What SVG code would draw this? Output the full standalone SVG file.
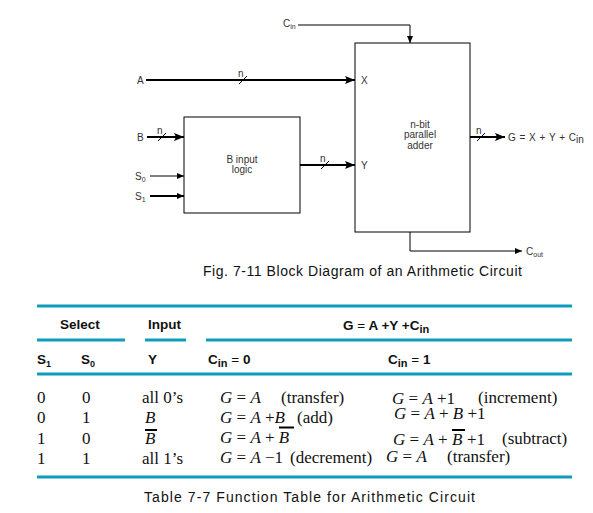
<svg xmlns="http://www.w3.org/2000/svg" width="593" height="513" viewBox="0 0 593 513" xml:space="preserve">
<defs>
<style>
.lbl{font-family:"Liberation Sans",Arial,sans-serif;font-size:10px;fill:#333}
.cap{font-family:"Liberation Sans",Arial,sans-serif;font-size:14px;fill:#111}
.hd{font-family:"Liberation Sans",Arial,sans-serif;font-size:13.5px;font-weight:bold;fill:#111}
.tb{font-family:"Liberation Serif","Times New Roman",serif;font-size:17px;fill:#111}
.it{font-style:italic}
.bus{stroke:#000;stroke-width:2.2;fill:none}
.thin{stroke:#000;stroke-width:1;fill:none}
.box{stroke:#000;stroke-width:1;fill:#fff}
.teal{stroke:#0f9bbd;stroke-width:3}
.bar{stroke:#000;stroke-width:2}
</style>
<marker id="ab" markerWidth="10" markerHeight="8" refX="10" refY="4" orient="auto" markerUnits="userSpaceOnUse">
<path d="M0,0 L10,4 L0,8 L2,4 Z" fill="#000"/>
</marker>
<marker id="as" markerWidth="7" markerHeight="6" refX="7" refY="3" orient="auto" markerUnits="userSpaceOnUse">
<path d="M0,0 L7,3 L0,6 Z" fill="#000"/>
</marker>
</defs>
<g id="connectors">
<path class="thin" d="M298,25 H410 V43" marker-end="url(#as)"/>
<path class="bus" d="M146,80 H355" marker-end="url(#ab)"/>
<line class="thin" x1="239" y1="84" x2="247" y2="76"/>
<text class="lbl" x="238" y="77">n</text>
<path class="bus" d="M147,137 H184" marker-end="url(#ab)"/>
<line class="thin" x1="158" y1="141" x2="166" y2="133"/>
<text class="lbl" x="157" y="134">n</text>
<path class="thin" d="M150,176 H184" marker-end="url(#as)"/>
<path class="bus" d="M150,196 H184" marker-end="url(#as)"/>
<path class="bus" d="M300,165 H355" marker-end="url(#ab)"/>
<line class="thin" x1="321" y1="169" x2="329" y2="161"/>
<text class="lbl" x="320" y="162">n</text>
<path class="bus" d="M470,137 H505" marker-end="url(#ab)"/>
<line class="thin" x1="477" y1="141" x2="485" y2="133"/>
<text class="lbl" x="476" y="134">n</text>
<path class="thin" d="M410,232 V251 H522" marker-end="url(#as)"/>
</g>
<g id="adder">
<rect class="box" x="355" y="43" width="115" height="189"/>
<text class="lbl" x="420" y="128" text-anchor="middle" font-size="9.5">n-bit</text>
<text class="lbl" x="420" y="138" text-anchor="middle" font-size="9.5">parallel</text>
<text class="lbl" x="420" y="149" text-anchor="middle" font-size="9.5">adder</text>
<text class="lbl" x="361" y="84">X</text>
<text class="lbl" x="361" y="169">Y</text>
</g>
<g id="blogic">
<rect class="box" x="184" y="117" width="116" height="96"/>
<text class="lbl" x="242" y="163" text-anchor="middle">B input</text>
<text class="lbl" x="242" y="173" text-anchor="middle">logic</text>
</g>
<g id="labels">
<text class="lbl" x="283" y="27">C<tspan font-size="7" dy="2">in</tspan></text>
<text class="lbl" x="137" y="84">A</text>
<text class="lbl" x="137" y="141">B</text>
<text class="lbl" x="135" y="180">S<tspan font-size="7" dy="2">0</tspan></text>
<text class="lbl" x="135" y="200">S<tspan font-size="7" dy="2">1</tspan></text>
<text class="lbl" x="508" y="141" textLength="68">G = X + Y + C</text>
<text class="lbl" x="576" y="143" font-size="7">in</text>
<text class="lbl" x="526" y="255">C<tspan font-size="7" dy="2">out</tspan></text>
</g>
<text class="cap" x="203" y="276" textLength="319">Fig. 7-11  Block Diagram of an Arithmetic Circuit</text>
<g id="table">
<line class="teal" x1="37" y1="306" x2="572" y2="306"/>
<line class="teal" x1="37" y1="340" x2="125" y2="340"/>
<line class="teal" x1="145" y1="340" x2="186" y2="340"/>
<line class="teal" x1="206" y1="340" x2="572" y2="340"/>
<line class="teal" x1="37" y1="374" x2="572" y2="374"/>
<line class="teal" x1="37" y1="477" x2="572" y2="477"/>
<text class="hd" x="60" y="329">Select</text>
<text class="hd" x="148" y="329">Input</text>
<text class="hd" x="343" y="330">G <tspan font-weight="normal">=</tspan> A +Y +C<tspan font-size="11" dy="3">in</tspan></text>
<text class="hd" x="37" y="364">S<tspan font-size="9" dy="3">1</tspan></text>
<text class="hd" x="81" y="364">S<tspan font-size="9" dy="3">0</tspan></text>
<text class="hd" x="148" y="364">Y</text>
<text class="hd" x="208" y="364">C<tspan font-size="11" dy="3">in</tspan><tspan dy="-3" font-weight="normal"> = </tspan>0</text>
<text class="hd" x="388" y="364">C<tspan font-size="11" dy="3">in</tspan><tspan dy="-3" font-weight="normal"> = </tspan>1</text>

<text class="tb" x="37" y="403">0</text>
<text class="tb" x="82" y="403">0</text>
<text class="tb" x="142" y="403">all 0’s</text>
<text class="tb" x="220" y="403"><tspan class="it">G</tspan> = <tspan class="it">A</tspan></text>
<text class="tb" x="281" y="403">(transfer)</text>
<text class="tb" x="392" y="404"><tspan class="it">G</tspan> = <tspan class="it">A</tspan> +1</text>
<text class="tb" x="478" y="403">(increment)</text>

<text class="tb" x="37" y="423">0</text>
<text class="tb" x="82" y="423">1</text>
<text class="tb it" x="145" y="423">B</text>
<text class="tb" x="220" y="423"><tspan class="it">G</tspan> = <tspan class="it">A</tspan> +<tspan class="it">B</tspan></text>
<text class="tb" x="297" y="423">(add)</text>
<text class="tb" x="394" y="419"><tspan class="it">G</tspan> = <tspan class="it">A</tspan> + <tspan class="it">B</tspan> +1</text>

<text class="tb" x="37" y="444">1</text>
<text class="tb" x="82" y="444">0</text>
<text class="tb it" x="145" y="444">B</text>
<line class="bar" x1="145" y1="430" x2="157" y2="430"/>
<text class="tb" x="220" y="443"><tspan class="it">G</tspan> = <tspan class="it">A</tspan> + <tspan class="it">B</tspan></text>
<line class="bar" x1="279" y1="427.5" x2="294" y2="427.5" stroke-width="2.5"/>
<text class="tb" x="393" y="445"><tspan class="it">G</tspan> = <tspan class="it">A</tspan> +</text>
<text class="tb it" x="452" y="445">B</text>
<text class="tb" x="467" y="445">+1</text>
<line class="bar" x1="452" y1="430" x2="465" y2="430" stroke-width="2.5"/>
<text class="tb" x="502" y="444">(subtract)</text>

<text class="tb" x="37" y="464">1</text>
<text class="tb" x="82" y="464">1</text>
<text class="tb" x="142" y="464">all 1’s</text>
<text class="tb" x="220" y="463"><tspan class="it">G</tspan> = <tspan class="it">A</tspan> −1</text>
<text class="tb" x="290" y="463">(decrement)</text>
<text class="tb" x="386" y="462"><tspan class="it">G</tspan> = <tspan class="it">A</tspan></text>
<text class="tb" x="447" y="462">(transfer)</text>
</g>
<text class="cap" x="144" y="502" font-size="15" textLength="331">Table 7-7  Function Table for Arithmetic Circuit</text>
</svg>
